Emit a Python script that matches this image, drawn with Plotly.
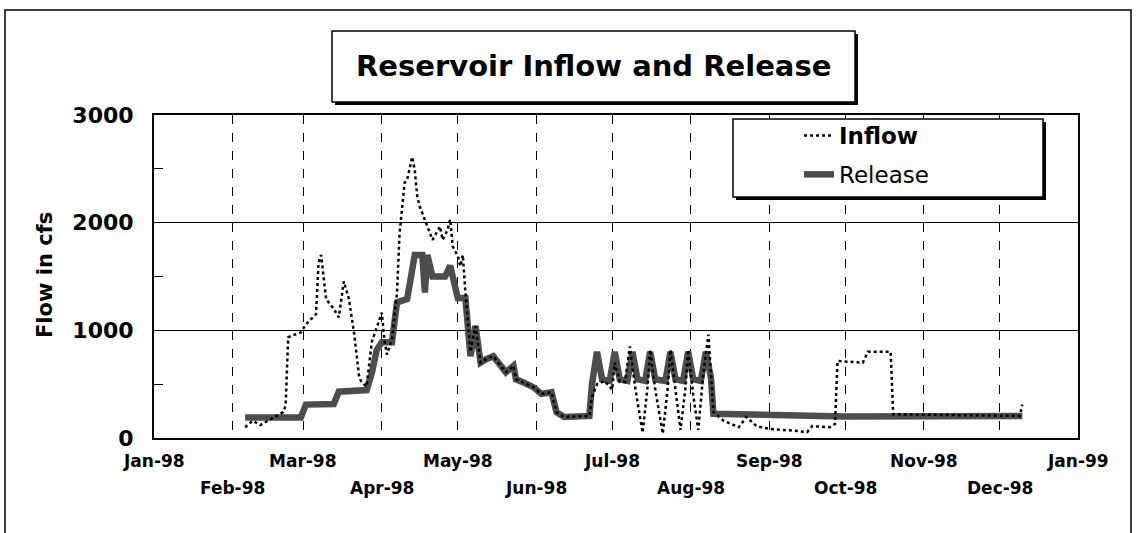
import plotly.graph_objects as go

# Release (cfs)
release_dates = [
    "1998-02-06", "1998-02-28", "1998-03-02", "1998-03-13", "1998-03-15", "1998-03-26",
    "1998-03-28", "1998-03-30", "1998-04-01", "1998-04-05", "1998-04-07", "1998-04-11",
    "1998-04-14", "1998-04-17", "1998-04-18", "1998-04-19", "1998-04-21", "1998-04-26",
    "1998-04-28", "1998-05-01", "1998-05-04", "1998-05-06", "1998-05-08", "1998-05-10",
    "1998-05-12", "1998-05-15", "1998-05-18", "1998-05-20", "1998-05-23", "1998-05-24",
    "1998-05-27", "1998-05-31", "1998-06-03", "1998-06-07", "1998-06-09", "1998-06-12",
    "1998-06-22", "1998-06-23", "1998-06-25", "1998-06-27", "1998-06-30", "1998-07-02",
    "1998-07-04", "1998-07-07", "1998-07-09", "1998-07-11", "1998-07-14", "1998-07-16",
    "1998-07-18", "1998-07-22", "1998-07-24", "1998-07-26", "1998-07-29", "1998-07-31",
    "1998-08-02", "1998-08-05", "1998-08-07", "1998-08-09", "1998-08-10", "1998-09-15",
    "1998-10-01", "1998-12-10",
]
release_cfs = [
    190, 190, 310, 315, 430, 445,
    600, 820, 890, 890, 1260, 1290,
    1700, 1700, 1350, 1700, 1500, 1500,
    1600, 1300, 1300, 760, 1040, 700,
    730, 760, 670, 610, 670, 545,
    515, 470, 410, 425, 240, 195,
    205, 500, 800, 545, 530, 800,
    545, 530, 800, 545, 530, 800,
    545, 530, 800, 545, 530, 800,
    545, 530, 800, 560, 225, 210,
    200, 205,
]

# Inflow (cfs)
inflow_dates = [
    "1998-02-06", "1998-02-09", "1998-02-12", "1998-02-15", "1998-02-19", "1998-02-21",
    "1998-02-22", "1998-02-23", "1998-02-25", "1998-02-28", "1998-03-02", "1998-03-06",
    "1998-03-07", "1998-03-08", "1998-03-10", "1998-03-13", "1998-03-15", "1998-03-17",
    "1998-03-19", "1998-03-21", "1998-03-23", "1998-03-24", "1998-03-26", "1998-03-28",
    "1998-04-01", "1998-04-02", "1998-04-03", "1998-04-05", "1998-04-07", "1998-04-08",
    "1998-04-10", "1998-04-11", "1998-04-13", "1998-04-14", "1998-04-15", "1998-04-16",
    "1998-04-19", "1998-04-21", "1998-04-24", "1998-04-25", "1998-04-27", "1998-04-28",
    "1998-04-29", "1998-05-01", "1998-05-02", "1998-05-03", "1998-05-04", "1998-05-05",
    "1998-05-06", "1998-05-08", "1998-05-10", "1998-05-12", "1998-05-15", "1998-05-18",
    "1998-05-20", "1998-05-23", "1998-05-24", "1998-05-27", "1998-05-31", "1998-06-03",
    "1998-06-07", "1998-06-09", "1998-06-12", "1998-06-22", "1998-06-23", "1998-06-25",
    "1998-06-28", "1998-07-01", "1998-07-02", "1998-07-04", "1998-07-06", "1998-07-08",
    "1998-07-10", "1998-07-13", "1998-07-15", "1998-07-16", "1998-07-18", "1998-07-21",
    "1998-07-23", "1998-07-24", "1998-07-26", "1998-07-28", "1998-07-30", "1998-07-31",
    "1998-08-02", "1998-08-04", "1998-08-06", "1998-08-08", "1998-08-10", "1998-08-14",
    "1998-08-20", "1998-08-23", "1998-08-27", "1998-09-01", "1998-09-12", "1998-09-16",
    "1998-09-18", "1998-09-25", "1998-09-27", "1998-09-28", "1998-10-08", "1998-10-10",
    "1998-10-19", "1998-10-20", "1998-12-09", "1998-12-10",
]
inflow_cfs = [
    100, 160, 120, 160, 220, 240,
    300, 935, 955, 980, 1055, 1150,
    1630, 1700, 1290, 1200, 1120, 1455,
    1290, 980, 575, 515, 480, 890,
    1165, 915, 775, 915, 1350, 1900,
    2370, 2400, 2610, 2490, 2240, 2150,
    1965, 1840, 1965, 1840, 1935, 2030,
    1780, 1690, 1595, 1700, 1350, 1100,
    800, 1040, 700, 730, 760, 670,
    610, 670, 545, 515, 470, 410,
    425, 240, 195, 205, 380, 500,
    530, 450, 700, 520, 520, 850,
    480, 50, 480, 820, 450, 40,
    480, 820, 450, 75, 480, 820,
    400, 75, 600, 960, 240, 160,
    100, 195, 110, 85, 65, 55,
    110, 100, 130, 715, 700, 800,
    800, 220, 205, 310,
]

month_ticks = [
    "1998-01-01", "1998-02-01", "1998-03-01", "1998-04-01", "1998-05-01", "1998-06-01",
    "1998-07-01", "1998-08-01", "1998-09-01", "1998-10-01", "1998-11-01", "1998-12-01",
    "1999-01-01",
]
month_labels = [
    "Jan-98", "Feb-98", "Mar-98", "Apr-98", "May-98", "Jun-98", "Jul-98",
    "Aug-98", "Sep-98", "Oct-98", "Nov-98", "Dec-98", "Jan-99",
]

W, H = 1138, 533
L, R, T, B = 154, 60, 115, 95
PW, PH = W - L - R, H - T - B


def px(x):
    return (x - L) / PW


def py(y):
    return (H - B - y) / PH


FONT = "DejaVu Sans, Arial, sans-serif"

fig = go.Figure()
fig.add_trace(go.Scatter(
    x=release_dates, y=release_cfs, name="Release", mode="lines",
    line=dict(color="#4d4d4d", width=6.5), legendgroup="r", legendrank=2,
))
fig.add_trace(go.Scatter(
    x=inflow_dates, y=inflow_cfs, name="<b>Inflow</b>", mode="lines",
    line=dict(color="black", width=2.5, dash="dot"), legendgroup="i", legendrank=1,
))

fig.update_xaxes(
    type="date", range=["1998-01-01", "1999-01-01"],
    tickvals=month_ticks, showticklabels=False, ticks="",
    showgrid=True, gridcolor="black", gridwidth=1, griddash="dash",
    showline=True, linecolor="black", linewidth=2, mirror=True, zeroline=False,
)
fig.update_yaxes(
    range=[0, 3000], dtick=1000, tickformat="d",
    showgrid=True, gridcolor="black", gridwidth=1,
    ticks="inside", ticklen=9, tickcolor="black",
    minor=dict(dtick=500, ticks="inside", ticklen=9, tickcolor="black", showgrid=False),
    showline=True, linecolor="black", linewidth=2, mirror=True, zeroline=False,
    tickfont=dict(family=FONT, size=22, color="black", weight="bold"),
    ticklabelstandoff=14,
)

# two-row month labels
annotations = []
for i, (d, lab) in enumerate(zip(month_ticks, month_labels)):
    annotations.append(dict(
        x=d, xref="x", y=0, yref="paper", text="<b>%s</b>" % lab, showarrow=False,
        xanchor="center", yanchor="middle", yshift=-23 if i % 2 == 0 else -50,
        font=dict(family=FONT, size=17, color="black"),
    ))

annotations.append(dict(
    x=px(45), xref="paper", y=py(275), yref="paper", text="<b>Flow in cfs</b>",
    xanchor="center", yanchor="middle",
    textangle=-90, showarrow=False, font=dict(family=FONT, size=21, color="black"),
))

annotations.append(dict(
    x=px(593), xref="paper", y=py(66), yref="paper",
    xanchor="center", yanchor="middle",
    text="<b>Reservoir Inflow and Release</b>", showarrow=False,
    font=dict(family=FONT, size=29, color="black"),
))

shapes = [
    # outer frame
    dict(type="rect", xref="paper", yref="paper", x0=px(5), x1=px(1131), y0=py(560), y1=py(10),
         line=dict(color="black", width=1.5)),
    # title box shadow + box
    dict(type="rect", xref="paper", yref="paper", x0=px(335), x1=px(858), y0=py(105), y1=py(34),
         line=dict(width=0), fillcolor="black"),
    dict(type="rect", xref="paper", yref="paper", x0=px(332), x1=px(855), y0=py(102), y1=py(31),
         line=dict(color="black", width=1.5), fillcolor="white"),
    # legend box shadow + box
    dict(type="rect", xref="paper", yref="paper", x0=px(736), x1=px(1046), y0=py(200), y1=py(122),
         line=dict(width=0), fillcolor="black"),
    dict(type="rect", xref="paper", yref="paper", x0=px(733), x1=px(1043), y0=py(197), y1=py(119),
         line=dict(color="black", width=1.5), fillcolor="white"),
]

fig.update_layout(
    width=W, height=H,
    margin=dict(l=L, r=R, t=T, b=B),
    paper_bgcolor="white", plot_bgcolor="white",
    font=dict(family=FONT, color="black"),
    showlegend=True,
    legend=dict(
        x=px(799), y=py(114), xanchor="left", yanchor="top",
        bgcolor="rgba(0,0,0,0)", borderwidth=0,
        font=dict(family=FONT, size=23, color="black"),
        tracegroupgap=6, traceorder="grouped",
    ),
    annotations=annotations,
    shapes=shapes,
)

fig.write_html("out.html", config={"displayModeBar": False},
               post_script="document.body.style.margin='0';")
